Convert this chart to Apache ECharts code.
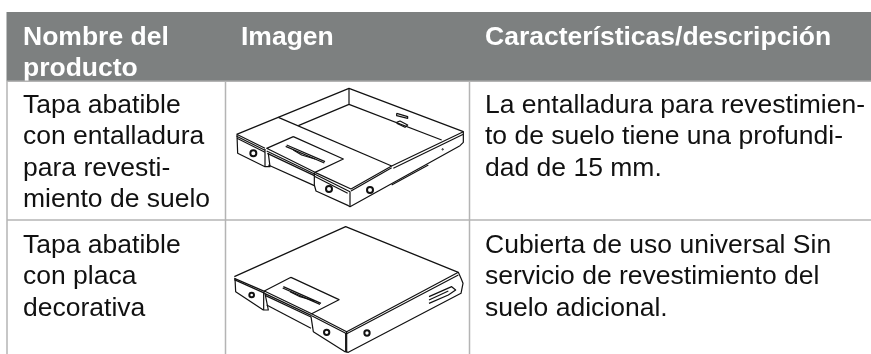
<!DOCTYPE html>
<html><head><meta charset="utf-8">
<script src="https://cdn.jsdelivr.net/npm/echarts@6/dist/echarts.min.js"></script>
<style>html,body{margin:0;padding:0;background:#fff}#c{width:871px;height:354px}</style>
</head><body><div id="c"></div>
<script>
const headers = [["Nombre del","producto"],["Imagen"],["Características/descripción"]];
const names = [["Tapa abatible","con entalladura","para revesti-","miento de suelo"],["Tapa abatible","con placa","decorativa"]];
const descriptions = [["La entalladura para revestimien-","to de suelo tiene una profundi-","dad de 15 mm."],["Cubierta de uso universal Sin","servicio de revestimiento del","suelo adicional."]];

// Line drawings, authored at 3x
const drawing1 = [
 [[65,148],[402,10],[745,140],[745,172],[735,182],[405,365],[400,362],[303,318],[298,300]],
 [[402,10],[402,58],[250,122]],[[402,58],[680,165]],
 [[190,97],[530,243]],[[745,140],[530,243],[408,312],[300,262]],
 [[408,318],[530,248]],[[745,148],[535,250]],
 [[300,268],[405,320],[405,365]],[[298,274],[398,325]],
 [[65,148],[150,190]],[[65,154],[150,196]],[[66,160],[150,202]],
 [[66,150],[68,205],[150,245],[165,245],[160,205]],[[150,192],[150,245]],
 [[235,155],[385,222],[300,262],[155,190],[235,155]],
 [[155,198],[300,268]],[[157,205],[298,272]],[[160,240],[298,302]],
 [[298,262],[298,300]],
 [[215,180],[330,230]],[[212,184],[328,234]],[[235,195],[260,210],[300,222]],
 [[545,85],[578,95],[578,100],[545,92],[545,85]],[[545,112],[555,108],[578,120],[570,127],[545,115]],
 [[530,300],[640,240]]
];
const holes1 = [[115,205,9],[342,312,9],[465,315,9],[683,193,2]];
const drawing2 = [
 [[58,185],[392,35],[730,172],[738,190],[744,205],[738,235],[400,412],[390,410],[295,350],[288,305]],
 [[58,190],[150,230]],[[58,194],[150,235]],
 [[60,190],[62,230],[145,285],[160,285],[150,235]],[[146,232],[146,285]],
 [[228,187],[372,254],[290,296],[148,228],[228,187]],
 [[150,236],[290,302]],[[152,242],[288,306]],[[155,270],[288,340]],
 [[290,296],[395,350],[730,172]],[[290,302],[395,356],[730,180]],
 [[395,350],[395,412]],[[392,354],[392,410]],
 [[205,215],[318,265]],[[203,219],[315,268]],[[225,230],[255,245],[300,258]],
 [[642,245],[710,215],[722,225],[700,240],[642,265]],[[642,255],[700,228]]
];
const holes2 = [[110,240,7],[335,352,8],[456,354,8]];

function shape(lines, holes, x, y){
  const s = {stroke:'#111',lineWidth:3.6,fill:'none',lineJoin:'round'};
  return {type:'group',x,y,scaleX:1/3,scaleY:1/3,children:[
    ...lines.map(p=>({type:'polyline',shape:{points:p},style:s})),
    ...holes.map(h=>({type:'circle',shape:{cx:h[0],cy:h[1],r:h[2]},style:{stroke:'#111',lineWidth:h[2]>3?6:3,fill:'#fff'}}))
  ]};
}
const fontSize=26.5, ascent=21;
function text(str,x,y,bold,color){
  return {type:'text',x,y:y-ascent,style:{text:str,x:0,y:0,fill:color,font:(bold?'bold ':'')+fontSize+'px "Liberation Sans"',verticalAlign:'top'}};
}
const grid='#b4b4b4';
function vline(x,y1,y2){return {type:'line',shape:{x1:x,y1,x2:x,y2},style:{stroke:grid,lineWidth:1.5}};}
function hline(y,x1,x2){return {type:'line',shape:{x1,y1:y,x2,y2:y},style:{stroke:grid,lineWidth:1.5}};}

const els=[];
els.push({type:'rect',shape:{x:6.5,y:12,width:865,height:69},style:{fill:'#7d8080'}});
const colX=[23,241,485], bodyX=[23,485];
headers.forEach((h,i)=>h.forEach((t,j)=>els.push(text(t,colX[i],45+j*31,true,'#fff'))));
els.push({type:'rect',shape:{x:0,y:81,width:871,height:273},style:{fill:'#fff'}});
els.push(vline(7,81,354),vline(225.5,81,354),vline(469.5,81,354),hline(220,7,871),hline(81.2,7,871));
const rowY=[113,253], lh=31.5;
names.forEach((r,i)=>r.forEach((t,j)=>els.push(text(t,bodyX[0],rowY[i]+j*lh,false,'#111'))));
descriptions.forEach((r,i)=>r.forEach((t,j)=>els.push(text(t,bodyX[1],rowY[i]+j*lh,false,'#111'))));
els.push(shape(drawing1,holes1,215,85),shape(drawing2,holes2,215,215));

const chart=echarts.init(document.getElementById('c'),null,{renderer:'canvas'});
chart.setOption({animation:false,backgroundColor:'#fff',graphic:{elements:els}});
</script></body></html>
